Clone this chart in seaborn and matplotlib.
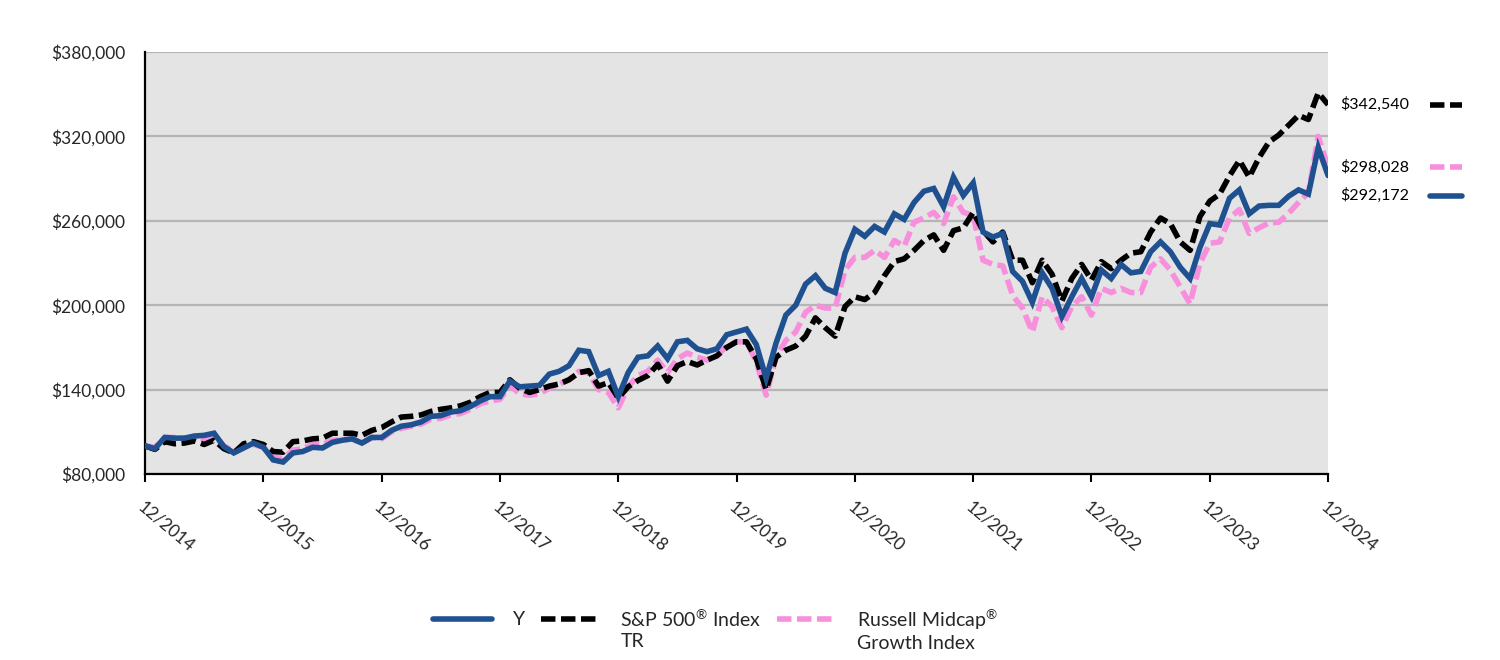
import matplotlib
matplotlib.use('Agg')
import matplotlib.pyplot as plt
import matplotlib.transforms as mtransforms
from matplotlib.lines import Line2D
from matplotlib.legend_handler import HandlerLine2D
from matplotlib.ticker import FuncFormatter
import seaborn as sns
import pandas as pd

# ---------------- data (values in $ thousands) ----------------
tick_labels = ['12/2014', '12/2015', '12/2016', '12/2017', '12/2018', '12/2019',
               '12/2020', '12/2021', '12/2022', '12/2023', '12/2024']

fund_y = [100, 98, 106, 105.5, 105.5, 107, 107.5, 109, 99.5, 95, 98.5, 102,
          99, 90, 88.5, 95, 96, 99, 98.5, 102.5, 104, 105, 102, 106,
          106, 111, 114, 115, 117, 121, 121.5, 124, 125, 128, 132, 135,
          135, 146, 142, 142.5, 143, 151, 153, 157, 168, 167, 150, 153,
          135, 152, 163, 164, 171, 162, 174, 175, 169, 167, 169, 179,
          181, 183, 172, 148, 173, 193, 200, 215, 221, 212, 209, 237,
          254, 249, 256, 252, 265, 261, 273, 281, 283, 270, 291, 278,
          287, 252, 248.5, 251, 224, 217, 202, 223, 212, 192, 206, 219,
          206, 225, 219, 229, 223, 224, 238, 245, 238, 227, 219, 241,
          258, 257, 276, 282, 265, 270.5, 271, 271, 277.5, 282, 279, 312, 292.172]

sp500 = [100, 97.5, 103, 101.5, 102, 103.5, 101, 104, 98, 95, 101.5, 103,
         101, 96, 95.5, 103, 103.5, 105, 105.5, 109, 109, 109, 107.5, 111,
         113, 117, 120.5, 121, 122, 124.5, 126, 127, 128.5, 131, 135, 138,
         138, 147, 141, 138, 140, 142.5, 144, 147, 152, 153.5, 142.5, 145,
         134, 142, 146.5, 150, 158, 146, 157, 160, 157.5, 161, 164, 170,
         174, 174, 162, 140, 163, 168, 171, 178, 191, 184, 178, 199,
         206, 204, 209, 221, 231, 233, 239, 246, 250, 239, 253, 255,
         266, 253, 245, 252, 232, 232, 216, 232, 222, 203, 219, 229,
         218, 231, 226, 232, 237, 238, 252, 262, 258, 245, 239, 263,
         274, 279, 292, 303, 291, 305, 316, 321, 328, 335, 332, 351, 342.54]

russell = [100, 99, 106, 106, 105.5, 106, 105, 107, 100, 96, 99, 101,
           99, 92, 91, 97, 98, 101, 101, 104, 104.5, 105, 102, 106,
           105, 110, 112.5, 114, 115.5, 119, 119.5, 122, 123, 126, 130, 132,
           133, 143, 137, 136, 137, 141, 144, 147, 153, 152, 140, 138,
           127, 142, 150, 153, 161, 152, 162, 166, 163, 161, 164, 171,
           174, 174, 160, 136, 163, 175, 181, 195, 200, 198, 198, 225,
           234, 234, 239, 234, 246, 242, 259, 262, 266, 258, 277, 266,
           264, 232, 229, 228, 207, 198, 181, 206, 199, 184, 199, 206,
           193, 212, 209, 212, 209, 209, 227, 233, 225, 213, 201, 230,
           244, 245, 262, 268, 251, 255, 258.5, 259, 265.5, 273, 280, 320, 298.028]

series_names = ['Y', 'S&P 500® Index\nTR', 'Russell Midcap®\nGrowth Index']
legend_labels = ['Y\n ', 'S&P 500$^{®}$ Index\nTR', 'Russell Midcap$^{®}$\nGrowth Index']
colors = ['#1f5191', '#000000', '#f78fdc']

months = list(range(len(fund_y)))
df = pd.DataFrame({'month': months * 3,
                   'value': [v * 1000 for v in fund_y + sp500 + russell],
                   'series': [series_names[0]] * len(months) + [series_names[1]] * len(months)
                             + [series_names[2]] * len(months)})

# ---------------- figure ----------------
sns.set_theme(style='white')
plt.rcParams['font.family'] = ['Lato', 'DejaVu Sans']
plt.rcParams['mathtext.fontset'] = 'custom'
plt.rcParams['mathtext.rm'] = 'Lato'
plt.rcParams['mathtext.it'] = 'Lato'
plt.rcParams['mathtext.default'] = 'rm'

fig = plt.figure(figsize=(15, 6.6), dpi=100)
ax = fig.add_axes([0.0967, 0.2818, 0.7887, 0.6394])
ax.set_facecolor('#e4e4e4')

LW = 4.0
DASH = (2.6, 1.0)
draw_order = [2, 1, 0]  # pink, black, blue on top
for k in draw_order:
    sub = df[df['series'] == series_names[k]]
    sns.lineplot(data=sub, x='month', y='value', ax=ax, color=colors[k],
                 linewidth=LW, legend=False, zorder=3 + (2 - k))
    line = ax.lines[-1]
    line.set_solid_joinstyle('miter')
    if k != 0:
        line.set_dashes(DASH)
        line.set_dash_capstyle('butt')

ax.set_xlim(0, 120)
ax.set_ylim(80000, 380000)
ax.set_yticks(range(80000, 380001, 60000))
ax.yaxis.set_major_formatter(FuncFormatter(lambda v, p: f'${v:,.0f}'))
ax.set_xticks(range(0, 121, 12))
ax.set_xticklabels(tick_labels, rotation=-40, ha='left', va='top',
                   rotation_mode='anchor')
ax.set_xlabel('')
ax.set_ylabel('')

ax.yaxis.grid(True, color='#b5b5b5', linewidth=1.6)
ax.xaxis.grid(False)
ax.set_axisbelow(True)

for s in ['top', 'right']:
    ax.spines[s].set_visible(False)
for s in ['left', 'bottom']:
    ax.spines[s].set_color('black')
    ax.spines[s].set_linewidth(1.6)

ax.tick_params(axis='x', which='major', bottom=True, length=6, width=1.5,
               color='black', direction='out', pad=12, labelsize=12.5)
ax.tick_params(axis='y', which='major', left=False, length=0, pad=14,
               labelsize=12.5)

# ---------------- right-side end labels with swatches ----------------
ytrans = ax.get_yaxis_transform()
end_vals = [fund_y[-1] * 1000, sp500[-1] * 1000, russell[-1] * 1000]
offsets = [-20, 0, 0]  # pixel offsets to avoid overlap
for k in range(3):
    v = end_vals[k]
    ax.annotate(f'${v:,.0f}', xy=(1, v), xycoords=ytrans,
                xytext=(9, offsets[k] * 0.72), textcoords='offset points',
                ha='left', va='center', fontsize=11.5, color='black',
                annotation_clip=False)
    tr = mtransforms.offset_copy(ytrans, fig=fig, x=0, y=offsets[k], units='dots')
    sw = Line2D([1.0862, 1.1133], [v, v], transform=tr, color=colors[k],
                linewidth=LW, clip_on=False)
    if k != 0:
        sw.set_dashes(DASH)
    ax.add_line(sw)


# ---------------- legend ----------------
class RaisedLine(HandlerLine2D):
    """Legend line aligned with the first text line."""
    def create_artists(self, legend, orig_handle, xdescent, ydescent,
                       width, height, fontsize, trans):
        return super().create_artists(legend, orig_handle, xdescent,
                                      ydescent - 16, width, height,
                                      fontsize, trans)


handles = []
for k in range(3):
    h = Line2D([0], [0], color=colors[k], linewidth=LW)
    if k != 0:
        h.set_dashes(DASH)
    handles.append(h)
fig.legend(handles, legend_labels, loc='center', bbox_to_anchor=(0.477, 0.046),
           ncol=3, frameon=False, fontsize=14, handlelength=3.0,
           handletextpad=1.1, columnspacing=0.8, labelspacing=0.1,
           handler_map={Line2D: RaisedLine()})

fig.savefig('out.png', dpi=100)
